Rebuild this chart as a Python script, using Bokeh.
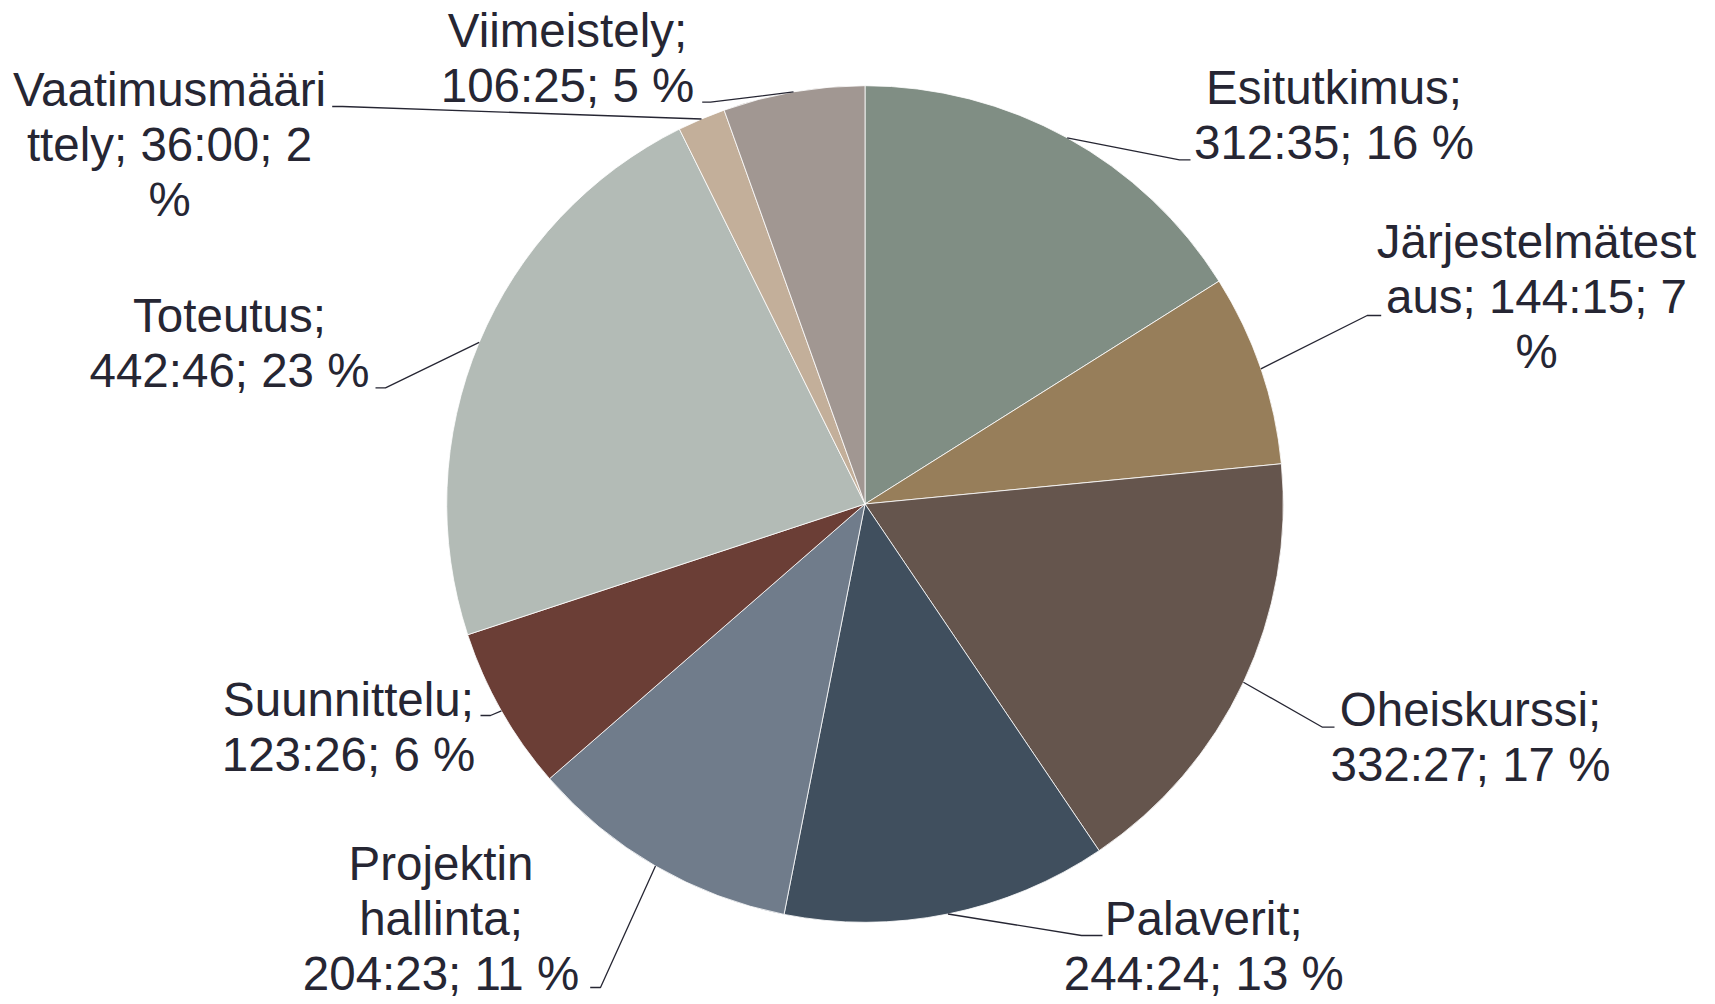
import math
from bokeh.plotting import figure
from bokeh.models import ColumnDataSource, Range1d
from bokeh.embed import file_html
from bokeh.resources import INLINE
from bokeh.core.properties import value

# ---------------- data ----------------
categories = ["Esitutkimus", "Järjestelmätestaus", "Oheiskurssi", "Palaverit",
              "Projektin hallinta", "Suunnittelu", "Toteutus",
              "Vaatimusmäärittely", "Viimeistely"]
durations = ["312:35", "144:15", "332:27", "244:24", "204:23",
             "123:26", "442:46", "36:00", "106:25"]
percents = [16, 7, 17, 13, 11, 6, 23, 2, 5]
colors = ["#808E84", "#977E5A", "#65554D", "#404F5E", "#707C8B",
          "#6B3E36", "#B3BBB6", "#C3AF9A", "#A19792"]

# ---------------- layout (screen px, y from top) ----------------
W, H = 1715, 1004
CX, CY, R = 864.5, 503.5, 418.3
FONT_PX = 47.5
LINE_H = 55
BASELINE_FIX = -18
TEXT_COLOR = "#262633"
# label centre x, first baseline y, elbow x, elbow y, end x, chunk lengths for wrapping
label_layout = [
    (1333.5, 105.0, 1179.0, 159.3, 1190.0, [13]),
    (1536.0, 259.3, 1366.7, 315.0, 1380.7, [15, 15]),
    (1470.0, 726.7, 1322.0, 726.7, 1334.0, [13]),
    (1203.3, 936.0, 1081.0, 935.0, 1102.0, [11]),
    (440.5, 880.7, 600.0, 987.0, 589.7, [10, 10]),
    (348.0, 716.7, 490.0, 715.0, 480.0, [13]),
    (229.0, 333.3, 385.0, 387.3, 375.0, [10]),
    (169.0, 106.7, 342.0, 106.0, 331.7, [13, 16]),
    (567.0, 47.7, 710.0, 101.7, 701.7, [13]),
]


def sy(y):
    return H - y


def minutes(d):
    h, m = d.split(":")
    return int(h) * 60 + int(m)


vals = [minutes(d) for d in durations]
total = float(sum(vals))

starts, ends, mids = [], [], []
cum = 0.0
for v in vals:
    a0 = math.pi / 2 - 2 * math.pi * cum / total
    cum += v
    a1 = math.pi / 2 - 2 * math.pi * cum / total
    starts.append(a0)
    ends.append(a1)
    mids.append((a0 + a1) / 2)

p = figure(width=W, height=H, x_range=Range1d(0, W), y_range=Range1d(0, H),
           output_backend="svg", toolbar_location=None, min_border=0,
           x_axis_type=None, y_axis_type=None)
p.grid.visible = False
p.outline_line_color = None
p.background_fill_color = "white"
p.border_fill_color = "white"

src = ColumnDataSource(dict(start=starts, end=ends, color=colors,
                            x=[CX] * len(vals), y=[sy(CY)] * len(vals)))
p.wedge(x="x", y="y", radius=R, start_angle="start", end_angle="end",
        direction="clock", fill_color="color", line_color="white",
        line_width=0.8, source=src)

# leader lines
xs, ys = [], []
for mid, lay in zip(mids, label_layout):
    cx, b0, ex, ey, endx, _ = lay
    px = CX + R * math.cos(mid)
    py = sy(CY) + R * math.sin(mid)
    xs.append([px, ex, endx])
    ys.append([py, sy(ey), sy(ey)])
p.multi_line(xs=xs, ys=ys, line_color=TEXT_COLOR, line_width=1.3)

# labels
tx, ty, tt = [], [], []
for cat, dur, pc, lay in zip(categories, durations, percents, label_layout):
    cx, b0, ex, ey, endx, chunks = lay
    full = f"{cat}; {dur}; {pc} %"
    lines = []
    pos = 0
    for n in chunks:
        lines.append(full[pos:pos + n].strip())
        pos += n
    lines.append(full[pos:].strip())
    for i, line in enumerate(lines):
        tx.append(cx)
        ty.append(sy(b0 + i * LINE_H + BASELINE_FIX))
        tt.append(line)

p.text(x=tx, y=ty, text=tt, text_align="center", text_baseline="alphabetic",
       text_font=value("Liberation Sans"), text_font_size=f"{FONT_PX}px",
       text_color=TEXT_COLOR)

open("out.html", "w").write(file_html(p, INLINE))
